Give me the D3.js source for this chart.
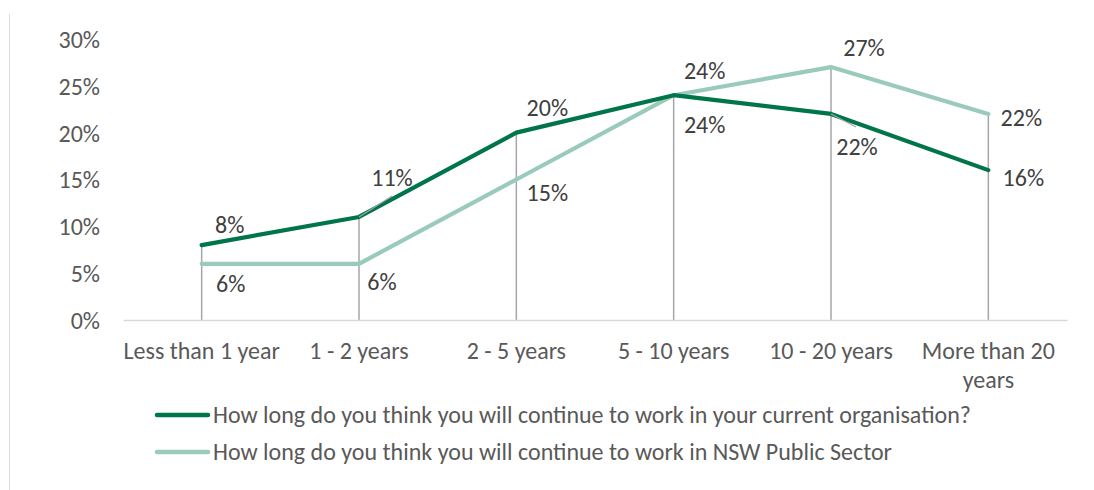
<!DOCTYPE html>
<html>
<head>
<meta charset="utf-8">
<script src="https://cdn.jsdelivr.net/npm/d3@7"></script>
<style>
  html, body { margin: 0; padding: 0; background: #fff; }
  svg { display: block; }
  svg text { font-family: Calibri, Carlito, "Open Sans", sans-serif; font-size: 24px; }
</style>
</head>
<body>
<svg id="chart" width="1094" height="490"></svg>
<script>
// Tenure categories and survey shares (%)
const categories = ["Less than 1 year", "1 - 2 years", "2 - 5 years", "5 - 10 years", "10 - 20 years", "More than 20 years"];
const organisationValues = [8, 11, 20, 24, 22, 16];
const publicSectorValues = [6, 6, 15, 24, 27, 22];
const yTicks = [0, 5, 10, 15, 20, 25, 30];
const seriesNames = [
  "How long do you think you will continue to work in your current organisation?",
  "How long do you think you will continue to work in NSW Public Sector"
];

// Data label placement (offsets of label centre from each point, in px)
const orgLabelOffsets = [[28, -20], [33, -39], [31, -25], [31, 29], [26, 33], [35, 7]];
const pubLabelOffsets = [[29, 20], [23, 18], [31, 13], [31, -25], [33, -20], [33, 4]];

const colors = { org: "#00754A", pub: "#9ACBB8", drop: "#A6A6A6", axis: "#D9D9D9", tick: "#595959", label: "#404040" };

const svg = d3.select("#chart");

// outer frame edge
svg.append("line").attr("x1", 9.5).attr("x2", 9.5).attr("y1", 14).attr("y2", 490)
  .attr("stroke", colors.axis).attr("stroke-width", 1);

const x = d3.scaleBand().domain(categories).range([123, 1067]).padding(0);
const y = d3.scaleLinear().domain([0, 30]).range([320, 39]);
const cx = c => x(c) + x.bandwidth() / 2;

// y axis labels
const yAxis = d3.axisLeft(y).tickValues(yTicks).tickFormat(d => d + "%").tickSize(0).tickPadding(0);
const yg = svg.append("g").attr("transform", "translate(100,0)").call(yAxis)
  .attr("font-family", null).attr("font-size", null);
yg.select(".domain").remove();
yg.selectAll("text").attr("fill", colors.tick).attr("dy", "0.35em");

// drop lines from the higher point to the axis
const maxVals = categories.map((c, i) => Math.max(organisationValues[i], publicSectorValues[i]));
svg.append("g").selectAll("line").data(categories).join("line")
  .attr("x1", c => cx(c)).attr("x2", c => cx(c))
  .attr("y1", (c, i) => y(maxVals[i])).attr("y2", y(0))
  .attr("stroke", colors.drop).attr("stroke-width", 1.5);

// x axis
const xAxis = d3.axisBottom(x).tickSize(0).tickPadding(0);
const xg = svg.append("g").attr("transform", `translate(0,${y(0)})`).call(xAxis)
  .attr("font-family", null).attr("font-size", null);
xg.select(".domain").attr("stroke", colors.axis).attr("stroke-width", 1.5);
xg.selectAll(".tick text").remove();
xg.selectAll(".tick").each(function(c) {
  const words = c === "More than 20 years" ? ["More than 20", "years"] : [c];
  const t = d3.select(this).append("text").attr("fill", colors.tick).attr("text-anchor", "middle");
  words.forEach((w, k) => t.append("tspan").attr("x", 0).attr("y", 31 + k * 29).attr("dy", "0.35em").text(w));
});

// series lines
const line = d3.line().x((d, i) => cx(categories[i])).y(d => y(d));
svg.append("path").datum(publicSectorValues).attr("d", line)
  .attr("fill", "none").attr("stroke", colors.pub).attr("stroke-width", 4.2).attr("stroke-linejoin", "round").attr("stroke-linecap", "round");
svg.append("path").datum(organisationValues).attr("d", line)
  .attr("fill", "none").attr("stroke", colors.org).attr("stroke-width", 4.2).attr("stroke-linejoin", "round").attr("stroke-linecap", "round");

// leader lines for moved labels
const leaders = [[1, organisationValues, [33, -21]], [4, organisationValues, [25, 13]]];
svg.append("g").selectAll("line").data(leaders).join("line")
  .attr("x1", d => cx(categories[d[0]])).attr("y1", d => y(d[1][d[0]]))
  .attr("x2", d => cx(categories[d[0]]) + d[2][0]).attr("y2", d => y(d[1][d[0]]) + d[2][1])
  .attr("stroke", colors.drop).attr("stroke-width", 1.2);

// data labels
function labels(values, offsets) {
  svg.append("g").selectAll("text").data(values).join("text")
    .attr("x", (d, i) => cx(categories[i]) + offsets[i][0])
    .attr("y", (d, i) => y(d) + offsets[i][1])
    .attr("dy", "0.35em").attr("text-anchor", "middle")
    .attr("fill", colors.label)
    .text(d => d + "%");
}
labels(organisationValues, orgLabelOffsets);
labels(publicSectorValues, pubLabelOffsets);

// legend
const legend = svg.append("g");
[[colors.org, seriesNames[0], 415], [colors.pub, seriesNames[1], 452]].forEach(([col, name, ly]) => {
  legend.append("line").attr("x1", 157).attr("x2", 208).attr("y1", ly).attr("y2", ly)
    .attr("stroke", col).attr("stroke-width", 4.5).attr("stroke-linecap", "round");
  legend.append("text").attr("x", 213).attr("y", ly).attr("dy", "0.35em")
    .attr("fill", colors.tick).text(name);
});
</script>
</body>
</html>
